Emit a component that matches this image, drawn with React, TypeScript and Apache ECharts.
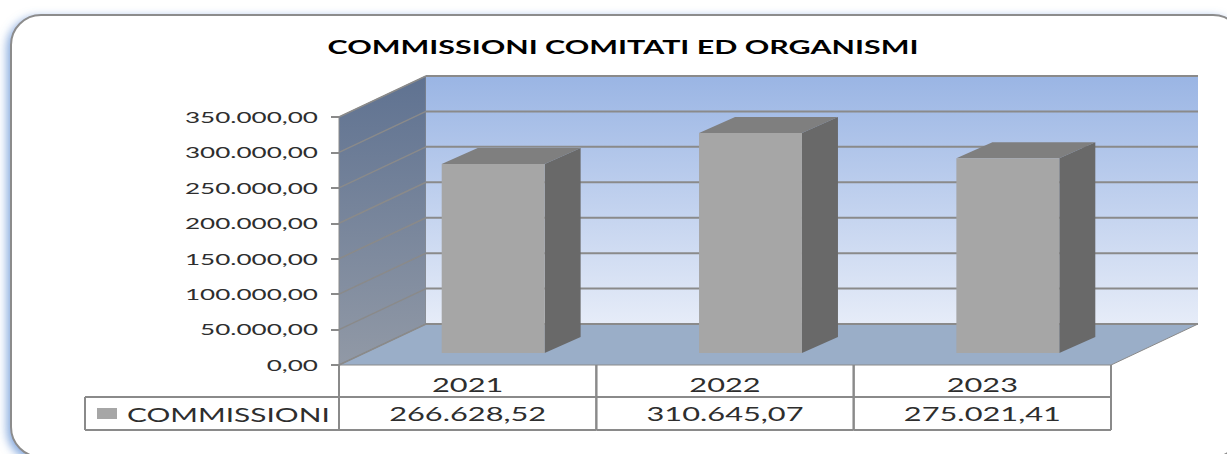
import React, { useEffect, useRef } from "react";
import * as echarts from "echarts";

const titleText = "COMMISSIONI COMITATI ED ORGANISMI";
const seriesName = "COMMISSIONI";
const categories = ["2021", "2022", "2023"];
const commissioni = [266628.52, 310645.07, 275021.41];
const commissioniLabels = ["266.628,52", "310.645,07", "275.021,41"];
const yTicks = [0, 50000, 100000, 150000, 200000, 250000, 300000, 350000];
const yTickLabels = ["0,00", "50.000,00", "100.000,00", "150.000,00", "200.000,00", "250.000,00", "300.000,00", "350.000,00"];

const DX = 87;
const DY = -41;
const BAR_DX = 25.5;
const BAR_DY = -12;
const BAR_DEPTH_X = 36;
const BAR_DEPTH_Y = -16;
const LINE = "#8a8a8a";
const FONT = "Lato";
const TICK_STRETCH = 1.63;
const TABLE_STRETCH = 1.62;

const vGrad = (a: string, b: string) =>
  new echarts.graphic.LinearGradient(0, 0, 0, 1, [
    { offset: 0, color: a },
    { offset: 1, color: b },
  ]);

export default function App() {
  const ref = useRef<HTMLDivElement>(null);
  useEffect(() => {
    const chart = echarts.init(ref.current!, undefined, { renderer: "svg" });

    const option: any = {
      animation: false,
      backgroundColor: "#ffffff",
      grid: { left: 339, right: 116, top: 117, bottom: 89, containLabel: false },
      graphic: [
        {
          type: "rect",
          z: 0,
          shape: { x: 11, y: 15, width: 1232, height: 442, r: 30 },
          style: {
            fill: "#ffffff",
            stroke: "#8c8c8c",
            lineWidth: 2,
            shadowBlur: 10,
            shadowOffsetX: -3,
            shadowOffsetY: 3,
            shadowColor: "rgba(91,140,210,0.75)",
          },
        },
        {
          type: "text",
          z: 5,
          x: 623,
          y: 47,
          scaleX: 1.69,
          style: { text: titleText, fill: "#000", font: `bold 18px ${FONT}`, align: "center", verticalAlign: "middle" },
        },
      ],
      xAxis: {
        type: "category",
        data: categories,
        axisLine: { show: false },
        axisTick: { show: false },
        axisLabel: { show: false },
        splitLine: { show: false },
      },
      yAxis: {
        type: "value",
        min: 0,
        max: 350000,
        interval: 50000,
        axisLine: { show: false },
        axisTick: { show: true, length: 8, lineStyle: { color: LINE, width: 2 } },
        axisLabel: { show: false },
        splitLine: { show: false },
      },
      series: [
        {
          name: "walls",
          type: "custom",
          silent: true,
          z: 1,
          data: [[0, 0]],
          renderItem: (params: any) => {
            const { x, y, width: w, height: h } = params.coordSys;
            const b = y + h;
            const r = x + w;
            return {
              type: "group",
              children: [
                {
                  type: "polygon",
                  shape: { points: [[x, y], [x + DX, y + DY], [x + DX, b + DY], [x, b]] },
                  style: { fill: vGrad("#5f7291", "#9199a6"), stroke: LINE, lineWidth: 1 },
                },
                {
                  type: "rect",
                  shape: { x: x + DX, y: y + DY, width: w, height: h },
                  style: { fill: vGrad("#9ab5e4", "#e6ecf8") },
                },
                {
                  type: "polygon",
                  shape: { points: [[x, b], [r, b], [r + DX, b + DY], [x + DX, b + DY]] },
                  style: { fill: "#9aaec8", stroke: LINE, lineWidth: 1 },
                },
              ],
            };
          },
        },
        {
          name: "gridlines",
          type: "custom",
          silent: true,
          z: 2,
          data: yTicks.map((t) => [0, t]),
          renderItem: (params: any, api: any) => {
            const { x, width: w } = params.coordSys;
            const p = api.coord([0, api.value(1)]);
            const yy = p[1];
            return {
              type: "group",
              children: [
                {
                  type: "line",
                  shape: { x1: x, y1: yy, x2: x + DX, y2: yy + DY },
                  style: { stroke: LINE, lineWidth: 1.5 },
                },
                {
                  type: "line",
                  shape: { x1: x + DX, y1: yy + DY, x2: x + DX + w, y2: yy + DY },
                  style: { stroke: LINE, lineWidth: 2 },
                },
              ],
            };
          },
        },
        {
          name: seriesName,
          type: "custom",
          z: 3,
          encode: { x: 0, y: 1 },
          data: commissioni.map((v, i) => [i, v]),
          renderItem: (params: any, api: any) => {
            const top = api.coord([api.value(0), api.value(1)]);
            const base = api.coord([api.value(0), 0]);
            const bw = api.size([1, 0])[0] * 0.4;
            const l = top[0] - bw / 2 + BAR_DX;
            const r = l + bw;
            const t = top[1] + BAR_DY;
            const b = base[1] + BAR_DY;
            return {
              type: "group",
              children: [
                {
                  type: "polygon",
                  shape: { points: [[l, t], [r, t], [r + BAR_DEPTH_X, t + BAR_DEPTH_Y], [l + BAR_DEPTH_X, t + BAR_DEPTH_Y]] },
                  style: { fill: "#7f7f7f" },
                },
                {
                  type: "polygon",
                  shape: { points: [[r, t], [r + BAR_DEPTH_X, t + BAR_DEPTH_Y], [r + BAR_DEPTH_X, b + BAR_DEPTH_Y], [r, b]] },
                  style: { fill: "#696969" },
                },
                {
                  type: "rect",
                  shape: { x: l, y: t, width: bw, height: b - t },
                  style: { fill: "#a6a6a6" },
                },
              ],
            };
          },
        },
        {
          name: "tickLabels",
          type: "custom",
          silent: true,
          z: 4,
          data: yTicks.map((t, i) => [i, t]),
          renderItem: (params: any, api: any) => {
            const p = api.coord([0, api.value(1)]);
            return {
              type: "text",
              x: params.coordSys.x - 21,
              y: p[1],
              scaleX: TICK_STRETCH,
              style: {
                text: yTickLabels[params.dataIndex],
                fill: "#2e2e2e",
                font: `16px ${FONT}`,
                align: "right",
                verticalAlign: "middle",
              },
            };
          },
        },
        {
          name: "dataTable",
          type: "custom",
          silent: true,
          z: 4,
          data: categories.map((c, i) => [i, 0]),
          renderItem: (params: any, api: any) => {
            const i = api.value(0);
            const { x, y, height: h } = params.coordSys;
            const band = api.size([1, 0])[0];
            const cx = api.coord([i, 0])[0];
            const l = x + band * i;
            const b = y + h;
            const r1 = b + 32;
            const r2 = b + 65;
            const line = (x1: number, y1: number, x2: number, y2: number) => ({
              type: "line",
              shape: { x1, y1, x2, y2 },
              style: { stroke: LINE, lineWidth: 2 },
            });
            const cell = (text: string, yy: number) => ({
              type: "text",
              x: cx,
              y: yy,
              scaleX: TABLE_STRETCH,
              style: { text, fill: "#2e2e2e", font: `19px ${FONT}`, align: "center", verticalAlign: "middle" },
            });
            const children: any[] = [
              line(l, b, l, r2),
              line(l + band, b, l + band, r2),
              line(l, r1, l + band, r1),
              line(l, r2, l + band, r2),
              cell(categories[i], b + 20),
              cell(commissioniLabels[i], b + 49),
            ];
            if (i === 0) {
              children.push(
                line(85, r1, l, r1),
                line(85, r2, l, r2),
                line(85, r1, 85, r2),
                { type: "rect", shape: { x: 97, y: b + 43, width: 20, height: 11 }, style: { fill: "#a6a6a6" } },
                {
                  type: "text",
                  x: 127,
                  y: b + 49,
                  scaleX: 1.57,
                  style: { text: seriesName, fill: "#2e2e2e", font: `19px ${FONT}`, align: "left", verticalAlign: "middle" },
                }
              );
            }
            return { type: "group", children };
          },
        },
      ],
    };

    chart.setOption(option);
    return () => chart.dispose();
  }, []);
  return <div ref={ref} style={{ position: "absolute", left: 0, top: 0, width: 1227, height: 454 }} />;
}
